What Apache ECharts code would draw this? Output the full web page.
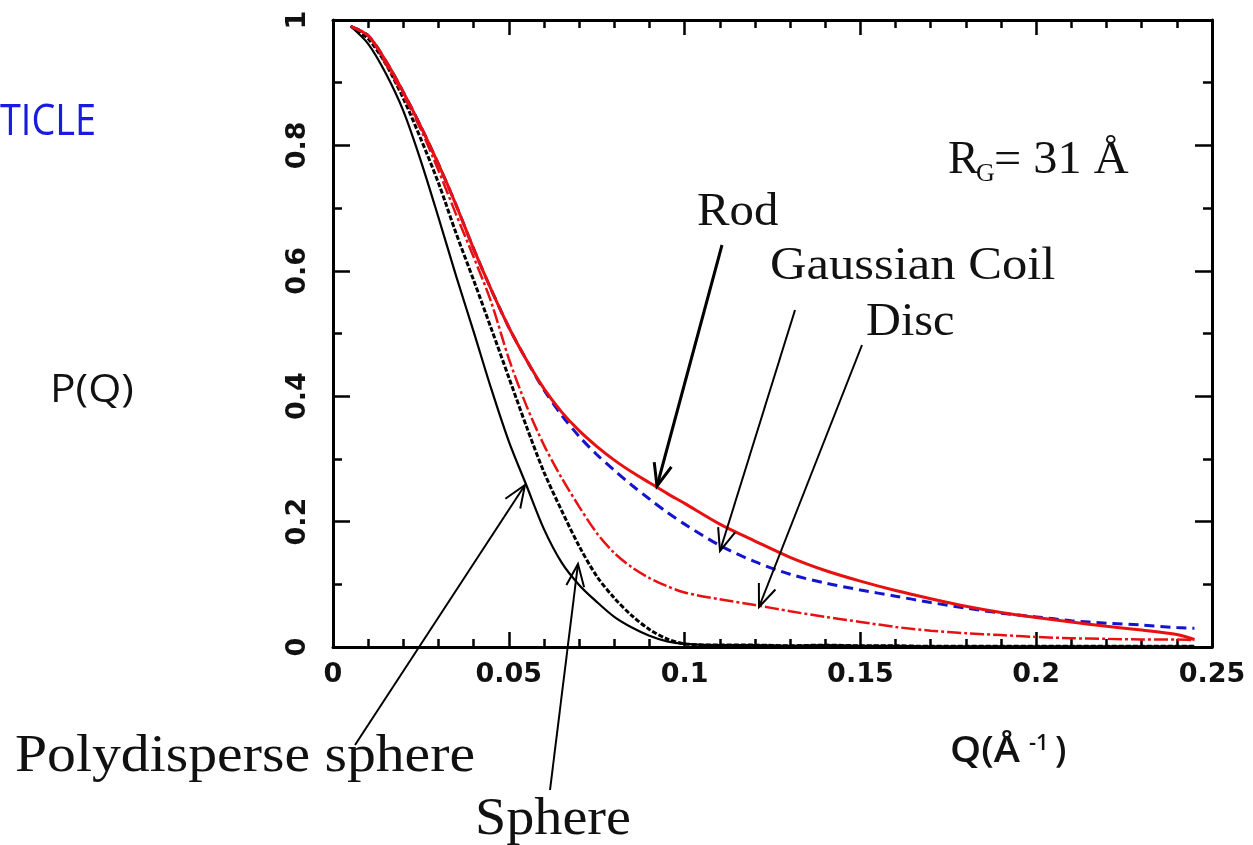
<!DOCTYPE html>
<html>
<head>
<meta charset="utf-8">
<script src="https://cdn.jsdelivr.net/npm/echarts@6/dist/echarts.min.js"></script>
<style>
html,body{margin:0;padding:0;background:#fff;}
#chart{width:1253px;height:845px;}
</style>
</head>
<body>
<div id="chart"></div>
<script>
// Scattering vector Q (Å^-1)
const Q = [0.005,0.01,0.015,0.02,0.025,0.03,0.035,0.04,0.045,0.05,
           0.055,0.06,0.065,0.07,0.075,0.08,0.085,0.09,0.095,0.1,
           0.11,0.12,0.13,0.14,0.15,0.16,0.17,0.18,0.19,0.2,
           0.21,0.22,0.23,0.24,0.245];
// Form factors P(Q)
const rod = [0.99,0.975,0.935,0.885,0.83,0.77,0.705,0.635,0.57,0.51,
             0.458,0.412,0.375,0.345,0.32,0.298,0.279,0.262,0.245,0.229,
             0.196,0.169,0.143,0.122,0.105,0.09,0.077,0.065,0.055,0.047,
             0.04,0.033,0.027,0.02,0.012];
const gaussianCoil = [0.99,0.975,0.935,0.885,0.83,0.77,0.705,0.635,0.57,0.51,
             0.458,0.41,0.37,0.336,0.307,0.282,0.258,0.236,0.215,0.196,
             0.162,0.136,0.116,0.102,0.091,0.081,0.071,0.062,0.054,0.048,
             0.042,0.038,0.035,0.031,0.03];
const disc = [0.99,0.975,0.93,0.88,0.825,0.76,0.69,0.622,0.55,0.46,
             0.385,0.322,0.27,0.224,0.182,0.15,0.127,0.11,0.097,0.087,
             0.076,0.067,0.057,0.048,0.04,0.032,0.026,0.022,0.019,0.016,
             0.014,0.013,0.012,0.012,0.011];
const sphere = [0.99,0.97,0.93,0.875,0.81,0.74,0.66,0.585,0.508,0.43,
             0.352,0.279,0.218,0.161,0.113,0.078,0.05,0.028,0.013,0.005,
             0.003,0.003,0.002,0.003,0.002,0.002,0.001,0.001,0.001,0.001,
             0.001,0.001,0.001,0.001,0.001];
const polydisperseSphere = [0.99,0.962,0.915,0.855,0.775,0.685,0.592,0.503,0.412,0.328,
             0.258,0.188,0.135,0.099,0.072,0.048,0.031,0.018,0.009,0.005,
             0.003,0.003,0.002,0.003,0.002,0.002,0.001,0.001,0.001,0.001,
             0.001,0.001,0.001,0.001,0.001];
// Tick labels
const xTickLabels = ['0','0.05','0.1','0.15','0.2','0.25'];
const yTickLabels = ['0','0.2','0.4','0.6','0.8','1'];

const pairs = arr => Q.map((q,i)=>[q, arr[i]]);

const chart = echarts.init(document.getElementById('chart'));

const tickFont = {fontFamily:'"DejaVu Sans"', fontWeight:'bold', fontSize:27, color:'#111'};
function axisCommon(extra){
  return Object.assign({
    axisLine:{show:true, onZero:false, lineStyle:{color:'#000', width:3}},
    splitLine:{show:false},
    minorSplitLine:{show:false}
  }, extra);
}

const RED = '#e81010', BLUE = '#1414cc', BLACK = '#000';

function arrowEls(x1,y1,x2,y2,w){
  const ang = Math.atan2(y2-y1, x2-x1), L = 24, a = 0.38;
  const p1 = [x2 - L*Math.cos(ang - a), y2 - L*Math.sin(ang - a)];
  const p2 = [x2 - L*Math.cos(ang + a), y2 - L*Math.sin(ang + a)];
  return [
    {type:'line', shape:{x1,y1,x2,y2}, style:{stroke:'#000', lineWidth:w}, z:100},
    {type:'polyline', shape:{points:[p1,[x2,y2],p2]}, style:{stroke:'#000', lineWidth:w, fill:null}, z:100}
  ];
}
function txt(text, x, y, size, family, opts){
  opts = opts || {};
  return {type:'text', x, y, scaleX: opts.sx || 1, scaleY: opts.sy || 1, z:100,
    style:{text, fontSize:size, fontFamily:family, fontWeight: opts.weight || 'normal',
      fill: opts.color || '#111', align:'left', verticalAlign:'middle'}};
}
const SERIF = '"Liberation Serif"';
const SANS = '"Open Sans"';

const graphics = [].concat(
  arrowEls(722,245,657,486,3),
  arrowEls(795,310,720,551,2),
  arrowEls(862,345,759,607,2),
  arrowEls(355,745,525,485,2),
  arrowEls(550,790,578,564,2),
  [
    txt('TICLE', 0, 122, 44, SANS, {color:'#1a1ae0', sx:0.86}),
    txt('P(Q)', 50, 391, 38, SANS, {sx:1.12}),
    txt('Rod', 697, 213, 46, SERIF, {sx:1.06}),
    txt('Gaussian Coil', 770, 267, 46, SERIF, {sx:1.1}),
    txt('Disc', 866, 323, 46, SERIF, {sx:1.05}),
    txt('R', 948, 161, 46, SERIF, {sx:1.0}),
    txt('G', 976, 174, 26, SERIF, {sx:1.0}),
    txt('= 31 Å', 994, 161, 46, SERIF, {sx:1.05}),
    txt('Polydisperse sphere', 15, 757, 52, SERIF, {sx:1.11}),
    txt('Sphere', 475, 820, 52, SERIF, {sx:1.08}),
    txt('Q(Å', 950, 752, 36, SANS, {weight:600, sx:1.1}),
    txt('-1', 1029, 744, 22, SANS, {weight:600}),
    txt(')', 1055, 752, 36, SANS, {weight:600})
  ]
);

function lineSeries(name, data, color, width, type){
  return {name, type:'line', data:pairs(data), showSymbol:false, smooth:0.3,
    xAxisIndex:0, yAxisIndex:0,
    lineStyle:{color, width, type}, emphasis:{disabled:true}};
}

chart.setOption({
  animation:false,
  backgroundColor:'#fff',
  grid:{left:333, top:20, right:41, bottom:198, containLabel:false},
  xAxis:[
    axisCommon({type:'value', position:'bottom', min:0, max:0.25, interval:0.05,
      axisTick:{show:true, inside:true, length:15, lineStyle:{color:'#000', width:2.5}},
      minorTick:{show:true, splitNumber:5, length:8, lineStyle:{color:'#000', width:2.5}},
      axisLabel:{show:true, margin:14, ...tickFont,
        formatter:(v)=>{const i=Math.round(v/0.05); return xTickLabels[i] ?? '';}}}),
    axisCommon({type:'value', position:'top', min:0, max:0.25, interval:0.05,
      axisTick:{show:true, inside:true, length:15, lineStyle:{color:'#000', width:2.5}},
      minorTick:{show:true, splitNumber:5, length:8, lineStyle:{color:'#000', width:2.5}},
      axisLabel:{show:false}})
  ],
  yAxis:[
    axisCommon({type:'value', position:'left', min:0, max:1, interval:0.2,
      axisTick:{show:true, inside:true, length:17, lineStyle:{color:'#000', width:2.5}},
      minorTick:{show:true, splitNumber:2, length:9, lineStyle:{color:'#000', width:2.5}},
      axisLabel:{show:true, rotate:90, margin:22, ...tickFont,
        formatter:(v)=>{const i=Math.round(v/0.2); return yTickLabels[i] ?? '';}}}),
    axisCommon({type:'value', position:'right', min:0, max:1, interval:0.2,
      axisTick:{show:true, inside:true, length:17, lineStyle:{color:'#000', width:2.5}},
      minorTick:{show:true, splitNumber:2, length:9, lineStyle:{color:'#000', width:2.5}},
      axisLabel:{show:false}})
  ],
  series:[
    lineSeries('Polydisperse sphere', polydisperseSphere, BLACK, 2.2, 'solid'),
    lineSeries('Sphere', sphere, BLACK, 3, [5,2]),
    lineSeries('Disc', disc, RED, 2.5, [14,3,3,3]),
    lineSeries('Gaussian Coil', gaussianCoil, BLUE, 3, [10,6]),
    lineSeries('Rod', rod, RED, 3, 'solid')
  ],
  graphic:{elements:graphics}
});
</script>
</body>
</html>
